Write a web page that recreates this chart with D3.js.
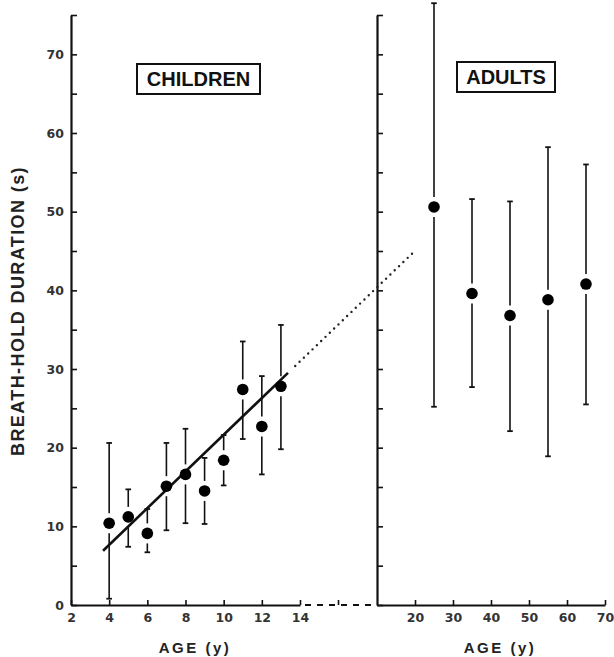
<!DOCTYPE html>
<html>
<head>
<meta charset="utf-8">
<script src="https://cdn.jsdelivr.net/npm/d3@7"></script>
<style>
  body { margin: 0; background: #fff; }
  .tickText text { font-family: "DejaVu Sans", sans-serif; font-size: 12.5px; font-weight: bold; fill: #333; }
  .axis path, .axis line { stroke: #111; }
  .boxLabel { font-family: "Liberation Sans", Arial, sans-serif; font-weight: bold; font-size: 20px; fill: #111; }
  .axisText { font-family: "Liberation Sans", Arial, sans-serif; font-weight: bold; fill: #222; }
</style>
</head>
<body>
<div id="chart"></div>
<script>
// children: age, mean, upper and lower end of bar
var childAges = [4, 5, 6, 7, 8, 9, 10, 11, 12, 13];
var childMeans = [10.4, 11.2, 9.1, 15.1, 16.6, 14.5, 18.4, 27.4, 22.7, 27.8];
var childUpper = [20.6, 14.7, 12.2, 20.6, 22.4, 18.7, 21.6, 33.5, 29.1, 35.6];
var childLower = [0.8, 7.4, 6.7, 9.5, 10.4, 10.3, 15.2, 21.1, 16.6, 19.8];

// adults
var adultAges = [25, 35, 45, 55, 65];
var adultMeans = [50.6, 39.6, 36.8, 38.8, 40.8];
var adultUpper = [76.5, 51.6, 51.3, 58.2, 56.0];
var adultLower = [25.2, 27.7, 22.1, 18.9, 25.5];

// regression line (age, seconds) and where the dotted part ends
var fitStart = [3.68, 6.9];
var fitEnd = [13.37, 29.5];
var dotStartAge = 13.75;
var dotEndAge = 20;

var yTicks = d3.range(0, 76, 5);
var childTicks = [2, 4, 6, 8, 10, 12, 14];
var adultTicks = [20, 30, 40, 50, 60, 70];

// STEP 1: canvas
var svgWidth = 614;
var svgHeight = 657;

var svg = d3.select("#chart")
    .append("svg")
    .attr("width", svgWidth)
    .attr("height", svgHeight);

// STEP 2: scales
var yScale = d3.scaleLinear().domain([0, 75]).range([605, 15]);
var xChild = d3.scaleLinear().domain([2, 14]).range([71, 300]);
var xAdult = d3.scaleLinear().domain([10, 70]).range([377, 605]);

// STEP 3: axes
var leftAxis = d3.axisLeft(yScale)
    .tickValues(yTicks)
    .tickSize(-6)
    .tickSizeOuter(0)
    .tickPadding(7)
    .tickFormat(d => d % 10 === 0 ? d : "");

svg.append("g")
    .attr("class", "axis tickText")
    .attr("transform", `translate(${xChild(2)}, 0)`)
    .call(leftAxis)
    .call(g => g.select(".domain").attr("stroke-width", 2.2))
    .call(g => g.selectAll(".tick line").attr("stroke-width", 1.6));

var adultYAxis = d3.axisLeft(yScale)
    .tickValues(yTicks)
    .tickSize(-6)
    .tickSizeOuter(0)
    .tickFormat("");

svg.append("g")
    .attr("class", "axis")
    .attr("transform", `translate(${xAdult(10)}, 0)`)
    .call(adultYAxis)
    .call(g => g.select(".domain").attr("stroke-width", 2.2))
    .call(g => g.selectAll(".tick line").attr("stroke-width", 1.6));

var childXAxis = d3.axisBottom(xChild)
    .tickValues(childTicks)
    .tickSize(-5)
    .tickSizeOuter(0)
    .tickPadding(8);

svg.append("g")
    .attr("class", "axis tickText")
    .attr("transform", `translate(0, ${yScale(0)})`)
    .call(childXAxis)
    .call(g => g.select(".domain").attr("stroke-width", 2.2))
    .call(g => g.selectAll(".tick line").attr("stroke-width", 1.6));

var adultXAxis = d3.axisBottom(xAdult)
    .tickValues(adultTicks)
    .tickSize(-5)
    .tickSizeOuter(0)
    .tickPadding(8);

svg.append("g")
    .attr("class", "axis tickText")
    .attr("transform", `translate(0, ${yScale(0)})`)
    .call(adultXAxis)
    .call(g => g.select(".domain").attr("stroke-width", 2.2))
    .call(g => g.selectAll(".tick line").attr("stroke-width", 1.6));

// broken axis between the two panels
svg.append("line")
    .attr("x1", xChild(14) + 5)
    .attr("x2", xAdult(10) - 2)
    .attr("y1", yScale(0))
    .attr("y2", yScale(0))
    .attr("stroke", "#111")
    .attr("stroke-width", 2)
    .attr("stroke-dasharray", "6,6");

var midX = (xChild(14) + xAdult(10)) / 2;
svg.append("line")
    .attr("x1", midX).attr("x2", midX)
    .attr("y1", yScale(0)).attr("y2", yScale(0) - 5)
    .attr("stroke", "#111")
    .attr("stroke-width", 1.6);

// STEP 4: regression line and dotted extension
var fitY = a => fitStart[1] + (fitEnd[1] - fitStart[1]) / (fitEnd[0] - fitStart[0]) * (a - fitStart[0]);

svg.append("line")
    .attr("x1", xChild(fitStart[0]))
    .attr("y1", yScale(fitStart[1]))
    .attr("x2", xChild(fitEnd[0]))
    .attr("y2", yScale(fitEnd[1]))
    .attr("stroke", "#111")
    .attr("stroke-width", 2.6);

svg.append("line")
    .attr("x1", xChild(dotStartAge))
    .attr("y1", yScale(fitY(dotStartAge)))
    .attr("x2", xChild(dotEndAge))
    .attr("y2", yScale(fitY(dotEndAge)))
    .attr("stroke", "#222")
    .attr("stroke-width", 2.4)
    .attr("stroke-linecap", "round")
    .attr("stroke-dasharray", "0,6");

// STEP 5: error bars and points
var gap = 10;
var capW = 2.8;

function drawGroup(ages, means, upper, lower, xScale) {
    var rows = ages.map((a, i) => ({ age: a, mean: means[i], hi: upper[i], lo: lower[i] }));
    var g = svg.append("g");

    rows.forEach(function(d) {
        var x = xScale(d.age);
        var yMean = yScale(d.mean);
        var yHi = yScale(d.hi);
        var yLo = yScale(d.lo);

        if (yHi < yMean - gap) {
            g.append("line")
                .attr("x1", x).attr("x2", x)
                .attr("y1", yHi).attr("y2", yMean - gap)
                .attr("stroke", "#111").attr("stroke-width", 1.6);
        }
        if (yLo > yMean + gap) {
            g.append("line")
                .attr("x1", x).attr("x2", x)
                .attr("y1", yMean + gap).attr("y2", yLo)
                .attr("stroke", "#111").attr("stroke-width", 1.6);
        }
        [yHi, yLo].forEach(function(yc) {
            g.append("line")
                .attr("x1", x - capW).attr("x2", x + capW)
                .attr("y1", yc).attr("y2", yc)
                .attr("stroke", "#111").attr("stroke-width", 1.8);
        });
    });

    g.selectAll("circle")
        .data(rows)
        .enter()
        .append("circle")
        .attr("cx", d => xScale(d.age))
        .attr("cy", d => yScale(d.mean))
        .attr("r", 5.8)
        .attr("fill", "#000");
}

drawGroup(childAges, childMeans, childUpper, childLower, xChild);
drawGroup(adultAges, adultMeans, adultUpper, adultLower, xAdult);

// STEP 6: boxed labels
function boxLabel(x, y, w, h, label) {
    svg.append("rect")
        .attr("x", x).attr("y", y)
        .attr("width", w).attr("height", h)
        .attr("fill", "none")
        .attr("stroke", "#111")
        .attr("stroke-width", 2);
    svg.append("text")
        .attr("class", "boxLabel")
        .attr("x", x + w / 2)
        .attr("y", y + h / 2)
        .attr("dy", "0.36em")
        .attr("text-anchor", "middle")
        .text(label);
}

boxLabel(137, 64, 123, 30, "CHILDREN");
boxLabel(457, 62, 98, 30, "ADULTS");

// STEP 7: axis titles
svg.append("text")
    .attr("class", "axisText")
    .attr("transform", "translate(24, 311) rotate(-90)")
    .attr("text-anchor", "middle")
    .attr("font-size", 18)
    .attr("letter-spacing", 1.4)
    .text("BREATH-HOLD DURATION (s)");

svg.append("text")
    .attr("class", "axisText")
    .attr("x", 195)
    .attr("y", 653)
    .attr("text-anchor", "middle")
    .attr("font-size", 15)
    .attr("letter-spacing", 2.5)
    .text("AGE (y)");

svg.append("text")
    .attr("class", "axisText")
    .attr("x", 500)
    .attr("y", 653)
    .attr("text-anchor", "middle")
    .attr("font-size", 15)
    .attr("letter-spacing", 2.5)
    .text("AGE (y)");
</script>
</body>
</html>
